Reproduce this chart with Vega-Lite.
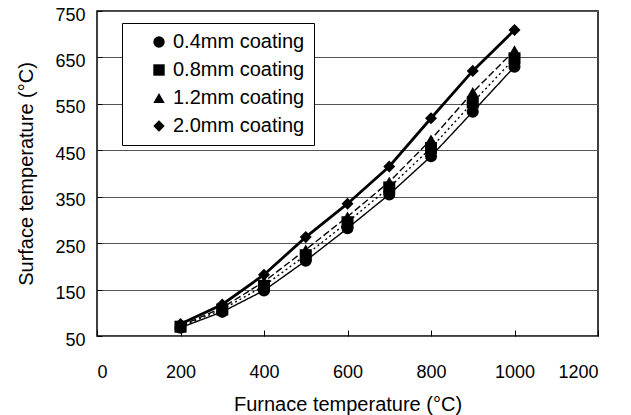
{
  "$schema": "https://vega.github.io/schema/vega-lite/v6.json",
  "width": 501,
  "height": 325,
  "autosize": {"type": "none"},
  "padding": {"left": 97, "top": 11, "right": 33, "bottom": 79},
  "background": "white",
  "config": {
    "font": "Liberation Sans",
    "view": {"stroke": "black", "strokeWidth": 1.5}
  },
  "data": {
    "values": [
      {"furnace": 200, "surface": 68, "coating": "0.4mm coating"},
      {"furnace": 300, "surface": 102, "coating": "0.4mm coating"},
      {"furnace": 400, "surface": 148, "coating": "0.4mm coating"},
      {"furnace": 500, "surface": 212, "coating": "0.4mm coating"},
      {"furnace": 600, "surface": 282, "coating": "0.4mm coating"},
      {"furnace": 700, "surface": 355, "coating": "0.4mm coating"},
      {"furnace": 800, "surface": 437, "coating": "0.4mm coating"},
      {"furnace": 900, "surface": 533, "coating": "0.4mm coating"},
      {"furnace": 1000, "surface": 630, "coating": "0.4mm coating"},
      {"furnace": 200, "surface": 70, "coating": "0.8mm coating"},
      {"furnace": 300, "surface": 107, "coating": "0.8mm coating"},
      {"furnace": 400, "surface": 158, "coating": "0.8mm coating"},
      {"furnace": 500, "surface": 224, "coating": "0.8mm coating"},
      {"furnace": 600, "surface": 295, "coating": "0.8mm coating"},
      {"furnace": 700, "surface": 370, "coating": "0.8mm coating"},
      {"furnace": 800, "surface": 455, "coating": "0.8mm coating"},
      {"furnace": 900, "surface": 553, "coating": "0.8mm coating"},
      {"furnace": 1000, "surface": 648, "coating": "0.8mm coating"},
      {"furnace": 200, "surface": 72, "coating": "1.2mm coating"},
      {"furnace": 300, "surface": 111, "coating": "1.2mm coating"},
      {"furnace": 400, "surface": 167, "coating": "1.2mm coating"},
      {"furnace": 500, "surface": 236, "coating": "1.2mm coating"},
      {"furnace": 600, "surface": 307, "coating": "1.2mm coating"},
      {"furnace": 700, "surface": 382, "coating": "1.2mm coating"},
      {"furnace": 800, "surface": 473, "coating": "1.2mm coating"},
      {"furnace": 900, "surface": 575, "coating": "1.2mm coating"},
      {"furnace": 1000, "surface": 665, "coating": "1.2mm coating"},
      {"furnace": 200, "surface": 76, "coating": "2.0mm coating"},
      {"furnace": 300, "surface": 118, "coating": "2.0mm coating"},
      {"furnace": 400, "surface": 182, "coating": "2.0mm coating"},
      {"furnace": 500, "surface": 263, "coating": "2.0mm coating"},
      {"furnace": 600, "surface": 335, "coating": "2.0mm coating"},
      {"furnace": 700, "surface": 415, "coating": "2.0mm coating"},
      {"furnace": 800, "surface": 519, "coating": "2.0mm coating"},
      {"furnace": 900, "surface": 621, "coating": "2.0mm coating"},
      {"furnace": 1000, "surface": 709, "coating": "2.0mm coating"}
    ]
  },
  "encoding": {
    "x": {
      "field": "furnace",
      "type": "quantitative",
      "scale": {"domain": [0, 1200], "nice": false},
      "axis": {
        "title": "Furnace temperature (°C)",
        "values": [0, 200, 400, 600, 800, 1000, 1200],
        "format": "d",
        "grid": false,
        "domain": false,
        "tickSize": -6,
        "tickColor": "black",
        "labelFontSize": 18,
        "labelColor": "black",
        "labelPadding": 33,
        "titleFontSize": 20,
        "titleFontWeight": "normal",
        "titleColor": "black",
        "titlePadding": 13
      }
    },
    "y": {
      "field": "surface",
      "type": "quantitative",
      "scale": {"domain": [50, 750], "nice": false},
      "axis": {
        "title": "Surface temperature (°C)",
        "values": [50, 150, 250, 350, 450, 550, 650, 750],
        "grid": true,
        "gridColor": "#555555",
        "gridWidth": 1,
        "domain": false,
        "tickSize": -5,
        "tickColor": "black",
        "labelFontSize": 18,
        "labelColor": "black",
        "labelPadding": 17,
        "labelOffset": 4,
        "titleFontSize": 20,
        "titleFontWeight": "normal",
        "titleColor": "black",
        "titlePadding": 18
      }
    }
  },
  "resolve": {"legend": {"shape": "independent", "strokeDash": "independent"}},
  "layer": [
    {
      "transform": [{"filter": "datum.coating != '2.0mm coating'"}],
      "mark": {"type": "line", "color": "black", "strokeWidth": 1.4},
      "encoding": {
        "strokeDash": {
          "field": "coating",
          "type": "nominal",
          "scale": {
            "domain": ["0.4mm coating", "0.8mm coating", "1.2mm coating"],
            "range": [[1, 0], [2, 3], [7, 3]]
          },
          "legend": null
        }
      }
    },
    {
      "transform": [{"filter": "datum.coating == '2.0mm coating'"}],
      "mark": {"type": "line", "color": "black", "strokeWidth": 2.8},
      "encoding": {}
    },
    {
      "mark": {"type": "point", "filled": true, "opacity": 1, "color": "black", "size": 145},
      "encoding": {
        "shape": {
          "field": "coating",
          "type": "nominal",
          "scale": {
            "domain": ["0.4mm coating", "0.8mm coating", "1.2mm coating", "2.0mm coating"],
            "range": ["circle", "square", "triangle-up", "diamond"]
          },
          "legend": {
            "title": null,
            "orient": "none",
            "legendX": 25,
            "legendY": 12,
            "fillColor": "white",
            "strokeColor": "black",
            "padding": 9,
            "symbolOffset": 18,
            "labelFontSize": 20,
            "labelColor": "black",
            "symbolFillColor": "black",
            "symbolStrokeColor": "black",
            "symbolSize": 130,
            "symbolOpacity": 1,
            "rowPadding": 8
          }
        }
      }
    }
  ]
}
